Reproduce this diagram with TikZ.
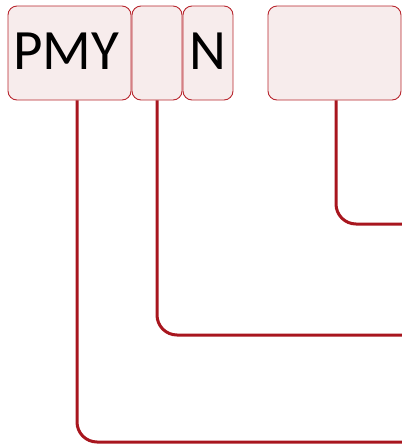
\documentclass[tikz,border=0pt]{standalone}
\usepackage{fontspec}
\setmainfont{Carlito}
\definecolor{boxfill}{HTML}{F7ECEC}
\definecolor{boxline}{HTML}{B8262E}
\definecolor{wire}{HTML}{A8161E}
\begin{document}
\begin{tikzpicture}[x=1pt,y=-1pt,
  field/.style={draw=boxline,fill=boxfill,line width=0.9pt,rounded corners=9pt,inner sep=0pt,minimum height=94pt},
  fieldtext/.style={inner sep=0pt,font=\fontsize{57}{57}\selectfont},
  wirestyle/.style={draw=wire,line width=3pt,rounded corners=20pt}]
\useasboundingbox (0,0) rectangle (402,445);
\node[field,minimum width=123pt] (pmy) at (69.5,53) {};
\node[field,minimum width=50pt] (blank) at (157,53) {};
\node[field,minimum width=50pt] (n) at (208,53) {};
\node[field,minimum width=133pt] (big) at (334.5,53) {};
\node[fieldtext] (pmytext) at (66.5,51) {PMY};
\node[fieldtext] (ntext) at (208,51) {N};
\coordinate (e1) at (402,224);
\coordinate (e2) at (402,335);
\coordinate (e3) at (402,442);
\draw[wirestyle] (big.south -| 336,0) |- (e1);
\draw[wirestyle] (blank.south) |- (e2);
\draw[wirestyle] (pmy.south -| 77,0) |- (e3);
\end{tikzpicture}
\end{document}
